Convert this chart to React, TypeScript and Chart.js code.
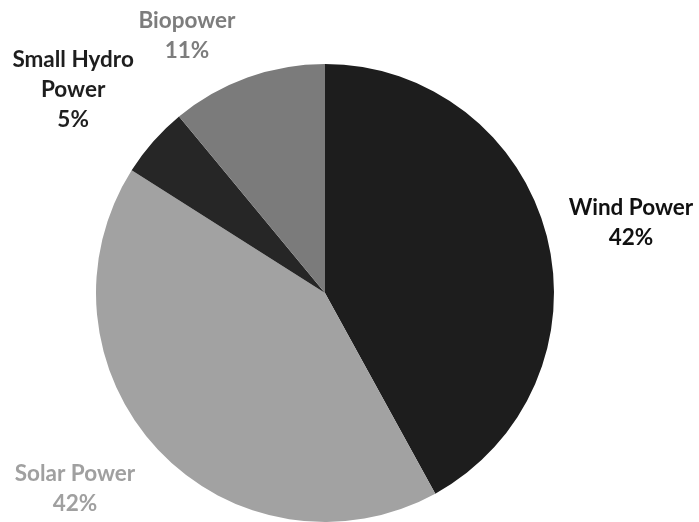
import React, { useEffect, useRef } from "react";
import { Chart, registerables } from "chart.js";

Chart.register(...registerables);

const categories = ["Wind Power", "Solar Power", "Small Hydro Power", "Biopower"];
const shares = [42, 42, 5, 11];
const labelLines = [["Wind Power", "42%"], ["Solar Power", "42%"], ["Small Hydro", "Power", "5%"], ["Biopower", "11%"]];
const sliceColors = ["#1d1d1d", "#a2a2a2", "#262626", "#7b7b7b"];
const labelColors = ["#111111", "#a0a0a0", "#1e1e1e", "#7d7d7d"];
// label block centre relative to pie centre, in units of the radius
const labelAnchors = [[1.336, -0.306], [-1.092, 0.856], [-1.1, -0.886], [-0.603, -1.124]];

const labelPlugin = {
  id: "outsideLabels",
  afterDraw(chart: any) {
    const ctx = chart.ctx;
    const meta = chart.getDatasetMeta(0);
    ctx.save();
    ctx.font = "bold 22.5px Lato, 'Open Sans', sans-serif";
    ctx.textAlign = "center";
    ctx.textBaseline = "middle";
    const lh = 30;
    meta.data.forEach((arc: any, i: number) => {
      const { x, y, outerRadius } = arc.getProps(["x", "y", "outerRadius"], true);
      const cx = x + labelAnchors[i][0] * outerRadius;
      const cy = y + labelAnchors[i][1] * outerRadius;
      const lines = labelLines[i];
      ctx.fillStyle = labelColors[i];
      lines.forEach((t, j) => {
        ctx.fillText(t, cx, cy + (j - (lines.length - 1) / 2) * lh);
      });
    });
    ctx.restore();
  },
};

export default function App() {
  const ref = useRef<HTMLCanvasElement>(null);
  useEffect(() => {
    const chart = new Chart(ref.current!, {
      type: "pie",
      data: {
        labels: categories,
        datasets: [
          {
            data: shares,
            backgroundColor: sliceColors,
            borderWidth: 0,
          },
        ],
      },
      options: {
        animation: false,
        responsive: false,
        layout: { padding: { left: 96, right: 145, top: 64, bottom: 0 } },
        plugins: { legend: { display: false }, tooltip: { enabled: false } },
      },
      plugins: [labelPlugin],
    });
    return () => chart.destroy();
  }, []);
  return (
    <div style={{ position: "fixed", left: 0, top: 0, width: 699, height: 522, background: "#fff" }}>
      <canvas ref={ref} width={699} height={522} style={{ display: "block" }} />
    </div>
  );
}
